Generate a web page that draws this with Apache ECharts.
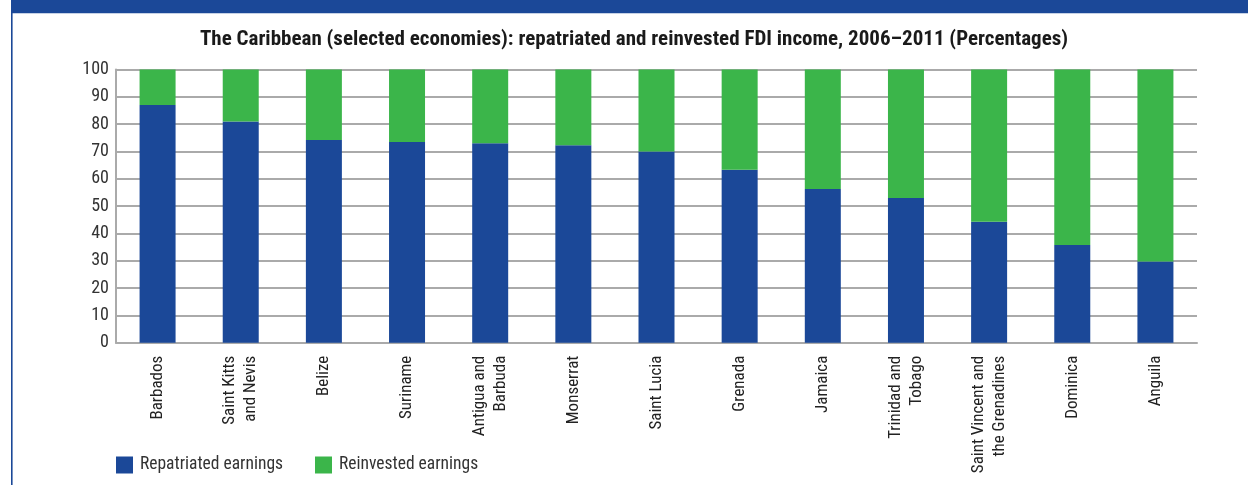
<!DOCTYPE html>
<html>
<head>
<meta charset="utf-8">
<script src="https://cdn.jsdelivr.net/npm/echarts@6/dist/echarts.min.js"></script>
<style>
html,body{margin:0;padding:0;background:#fff;}
#chart{width:1248px;height:485px;}
</style>
</head>
<body>
<div id="chart"></div>
<script>
var categories = ['Barbados', 'Saint Kitts\nand Nevis', 'Belize', 'Suriname', 'Antigua and\nBarbuda', 'Monserrat', 'Saint Lucia', 'Grenada', 'Jamaica', 'Trinidad and\nTobago', 'Saint Vincent and\nthe Grenadines', 'Dominica', 'Anguila'];
var repatriated = [87, 81, 74.2, 73.5, 73, 72.3, 70, 63.3, 56.3, 53, 44.3, 35.8, 29.7];
var reinvested = [13, 19, 25.8, 26.5, 27, 27.7, 30, 36.7, 43.7, 47, 55.7, 64.2, 70.3];
var yTicks = [0, 10, 20, 30, 40, 50, 60, 70, 80, 90, 100];
var titleText = 'The Caribbean (selected economies): repatriated and reinvested FDI income, 2006\u20132011 (Percentages)';

var FONT = '"Roboto Condensed", "Liberation Sans Narrow", "Arial Narrow", "DejaVu Sans Condensed", sans-serif';
var BLUE = '#1B4898';
var GREEN = '#3BB54A';

var chart = echarts.init(document.getElementById('chart'), null, {renderer: 'canvas'});
chart.setOption({
  animation: false,
  backgroundColor: '#fff',
  textStyle: {fontFamily: FONT},
  title: {
    text: titleText,
    left: 634,
    textAlign: 'center',
    top: 29,
    padding: 0,
    textStyle: {fontFamily: FONT, fontWeight: 'bold', fontSize: 21, color: '#1a1a1a'}
  },
  graphic: [
    {type: 'rect', shape: {x: 11, y: 0, width: 1237, height: 13.3}, style: {fill: BLUE}, silent: true},
    {type: 'rect', shape: {x: 11, y: 13, width: 1.6, height: 472}, style: {fill: BLUE}, silent: true}
  ],
  legend: {
    left: 116,
    top: 456,
    padding: 0,
    itemWidth: 17,
    itemHeight: 17,
    itemGap: 32,
    icon: 'rect',
    textStyle: {fontFamily: FONT, fontSize: 17.5, color: '#333', padding: [0, 0, 0, 2]},
    data: ['Repatriated earnings', 'Reinvested earnings']
  },
  grid: {left: 116, right: 51, top: 69.5, bottom: 142.3, containLabel: false, outerBoundsMode: 'none'},
  xAxis: {
    type: 'category',
    data: categories,
    axisLine: {show: true, lineStyle: {color: '#aaa', width: 2}},
    axisTick: {show: false},
    axisLabel: {
      interval: 0,
      rotate: 90,
      margin: 13,
      fontFamily: FONT,
      fontSize: 17,
      lineHeight: 21,
      color: '#222'
    }
  },
  yAxis: {
    type: 'value',
    min: 0,
    max: 100,
    interval: 10,
    axisLine: {show: true, lineStyle: {color: '#aaa', width: 2}},
    axisTick: {show: false},
    splitLine: {show: true, lineStyle: {color: '#aaa', width: 2}},
    axisLabel: {
      margin: 7,
      fontFamily: FONT,
      fontSize: 18,
      color: '#333',
      formatter: function (v) { return yTicks.indexOf(v) >= 0 ? String(v) : ''; }
    }
  },
  series: [
    {
      name: 'Repatriated earnings',
      type: 'bar',
      stack: 'total',
      barWidth: 36,
      itemStyle: {color: BLUE},
      data: repatriated
    },
    {
      name: 'Reinvested earnings',
      type: 'bar',
      stack: 'total',
      barWidth: 36,
      itemStyle: {color: GREEN},
      data: reinvested
    }
  ]
});
</script>
</body>
</html>
